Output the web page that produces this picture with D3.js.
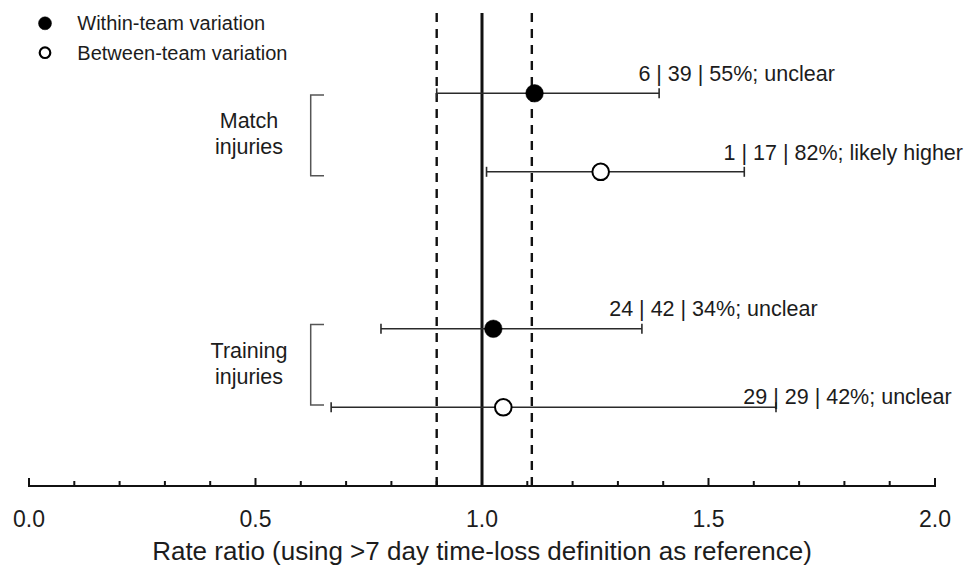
<!DOCTYPE html>
<html>
<head>
<meta charset="utf-8">
<script src="https://cdn.jsdelivr.net/npm/d3@7"></script>
<style>
  html, body { margin: 0; padding: 0; background: #fff; }
  svg { display: block; font-family: "Liberation Sans", Arial, Helvetica, sans-serif; }
</style>
</head>
<body>
<svg id="chart" width="973" height="567"></svg>
<script>
// ---------- data ----------
const categories = ["Match injuries", "Training injuries"];
const groupLines = [["Match", "injuries"], ["Training", "injuries"]];
const seriesNames = ["Within-team variation", "Between-team variation"];

const withinEst = [1.116, 1.025];
const withinLo  = [0.900, 0.777];
const withinHi  = [1.391, 1.353];
const withinLabels = ["6 | 39 | 55%; unclear", "24 | 42 | 34%; unclear"];

const betweenEst = [1.262, 1.047];
const betweenLo  = [1.010, 0.667];
const betweenHi  = [1.579, 1.649];
const betweenLabels = ["1 | 17 | 82%; likely higher", "29 | 29 | 42%; unclear"];

const refLine = 1.0;
const thresholdLines = [0.9, 1.11];

const xMajorTicks = [0, 0.5, 1.0, 1.5, 2.0];
const xTickLabels = ["0.0", "0.5", "1.0", "1.5", "2.0"];
const xMinorTicks = [0.1,0.2,0.3,0.4,0.6,0.7,0.8,0.9,1.1,1.2,1.3,1.4,1.6,1.7,1.8,1.9];
const xTitle = "Rate ratio (using >7 day time-loss definition as reference)";

// ---------- layout ----------
const svg = d3.select("#chart");
const W = 973, H = 567;
const axisY = 486;
const textColor = "#1c1c1c";

svg.append("rect").attr("width", W).attr("height", H).attr("fill", "#fff");

const x = d3.scaleLinear().domain([0, 2]).range([29, 935]);

// rows: match within, match between, (gap), training within, training between
const rowKeys = ["m_w", "m_b", "gap", "t_w", "t_b"];
const y = d3.scalePoint().domain(rowKeys).range([93.3, 407.3]);

const rows = [];
categories.forEach((c, i) => {
  const pre = i === 0 ? "m" : "t";
  rows.push({ key: pre + "_w", cat: i, filled: true,  est: withinEst[i],  lo: withinLo[i],  hi: withinHi[i],  label: withinLabels[i] });
  rows.push({ key: pre + "_b", cat: i, filled: false, est: betweenEst[i], lo: betweenLo[i], hi: betweenHi[i], label: betweenLabels[i] });
});
const labelDy = { m_w: -12, m_b: -12, t_w: -13, t_b: -3.5 };

// ---------- vertical reference lines ----------
const lineTop = 13;
svg.selectAll("line.thr").data(thresholdLines).enter().append("line")
  .attr("class", "thr")
  .attr("x1", d => x(d)).attr("x2", d => x(d))
  .attr("y1", lineTop).attr("y2", axisY)
  .attr("stroke", "#111").attr("stroke-width", 2.4)
  .attr("stroke-dasharray", "9,7");

svg.append("line")
  .attr("x1", x(refLine)).attr("x2", x(refLine))
  .attr("y1", lineTop).attr("y2", axisY)
  .attr("stroke", "#111").attr("stroke-width", 3);

// ---------- axis ----------
const axisG = svg.append("g").attr("transform", `translate(0,${axisY})`);
axisG.append("line")
  .attr("x1", x(0)).attr("x2", x(2)).attr("y1", 0).attr("y2", 0)
  .attr("stroke", "#111").attr("stroke-width", 2);
axisG.selectAll("line.maj").data(xMajorTicks).enter().append("line")
  .attr("class", "maj")
  .attr("x1", d => x(d)).attr("x2", d => x(d))
  .attr("y1", 1).attr("y2", -8)
  .attr("stroke", "#111").attr("stroke-width", 2);
axisG.selectAll("line.min").data(xMinorTicks).enter().append("line")
  .attr("class", "min")
  .attr("x1", d => x(d)).attr("x2", d => x(d))
  .attr("y1", 1).attr("y2", -5)
  .attr("stroke", "#111").attr("stroke-width", 2);
axisG.selectAll("text.tl").data(xMajorTicks).enter().append("text")
  .attr("class", "tl")
  .attr("x", d => x(d)).attr("y", 40.7)
  .attr("text-anchor", "middle")
  .attr("font-size", 23)
  .attr("fill", textColor)
  .text((d, i) => xTickLabels[i]);

svg.append("text")
  .attr("x", (x(0) + x(2)) / 2).attr("y", 560)
  .attr("text-anchor", "middle")
  .attr("font-size", 26)
  .attr("fill", textColor)
  .text(xTitle);

// ---------- error bars ----------
const capH = 5;
const eb = svg.selectAll("g.row").data(rows).enter().append("g").attr("class", "row");
eb.append("line")
  .attr("x1", d => x(d.lo)).attr("x2", d => x(d.hi))
  .attr("y1", d => y(d.key)).attr("y2", d => y(d.key))
  .attr("stroke", "#2a2a2a").attr("stroke-width", 1.6);
eb.append("line")
  .attr("x1", d => x(d.lo)).attr("x2", d => x(d.lo))
  .attr("y1", d => y(d.key) - capH).attr("y2", d => y(d.key) + capH)
  .attr("stroke", "#2a2a2a").attr("stroke-width", 1.6);
eb.append("line")
  .attr("x1", d => x(d.hi)).attr("x2", d => x(d.hi))
  .attr("y1", d => y(d.key) - capH).attr("y2", d => y(d.key) + capH)
  .attr("stroke", "#2a2a2a").attr("stroke-width", 1.6);
eb.append("circle")
  .attr("cx", d => x(d.est)).attr("cy", d => y(d.key))
  .attr("r", d => d.filled ? 8.8 : 8.3)
  .attr("fill", d => d.filled ? "#000" : "#fff")
  .attr("stroke", "#000").attr("stroke-width", d => d.filled ? 0.5 : 2);

// labels: first "|" centered over the upper cap
eb.append("text")
  .attr("font-size", 21.5)
  .attr("fill", textColor)
  .attr("y", d => y(d.key) + labelDy[d.key])
  .text(d => d.label)
  .each(function(d) {
    const idx = d.label.indexOf("|");
    const pre = this.getSubStringLength(0, idx);
    const bar = this.getSubStringLength(idx, 1);
    d3.select(this).attr("x", x(d.hi) - pre - bar / 2);
  });

// ---------- group brackets ----------
categories.forEach((c, i) => {
  const pre = i === 0 ? "m" : "t";
  const yTop = y(pre + "_w") + (i === 0 ? 1.7 : -4.3);
  const yBot = y(pre + "_b") + (i === 0 ? 4 : -2.3);
  const bx0 = 310.7, bx1 = 324;
  svg.append("path")
    .attr("d", `M${bx1},${yTop} H${bx0} V${yBot} H${bx1}`)
    .attr("fill", "none").attr("stroke", "#555").attr("stroke-width", 1.5);
  const mid = (yTop + yBot) / 2;
  svg.append("text")
    .attr("x", 249).attr("y", mid - 7)
    .attr("text-anchor", "middle").attr("font-size", 21.5).attr("fill", textColor)
    .text(groupLines[i][0]);
  svg.append("text")
    .attr("x", 249).attr("y", mid + 19)
    .attr("text-anchor", "middle").attr("font-size", 21.5).attr("fill", textColor)
    .text(groupLines[i][1]);
});

// ---------- legend ----------
const legend = svg.append("g");
const legY = [23.3, 52.7];
seriesNames.forEach((s, i) => {
  legend.append("circle")
    .attr("cx", 45).attr("cy", legY[i])
    .attr("r", i === 0 ? 6.5 : 5.3)
    .attr("fill", i === 0 ? "#000" : "#fff")
    .attr("stroke", "#000").attr("stroke-width", i === 0 ? 0.5 : 2.2);
  legend.append("text")
    .attr("x", 77.3).attr("y", legY[i] + 6.8)
    .attr("font-size", 20).attr("fill", textColor)
    .text(s);
});
</script>
</body>
</html>
